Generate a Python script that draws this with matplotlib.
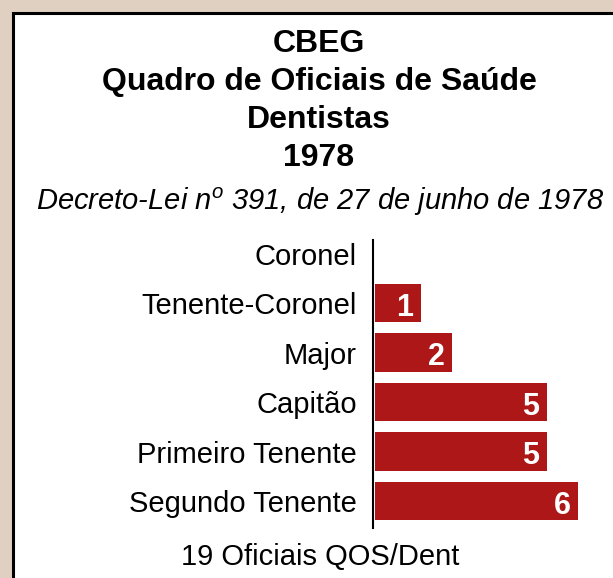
import matplotlib.pyplot as plt
import numpy as np
from matplotlib.patches import Rectangle

plt.rcParams['font.family'] = ['Liberation Sans', 'DejaVu Sans']
plt.rcParams['mathtext.fontset'] = 'custom'
plt.rcParams['mathtext.rm'] = 'Liberation Sans'
plt.rcParams['mathtext.it'] = 'Liberation Sans:italic'

postos = ['Coronel', 'Tenente-Coronel', 'Major', 'Capitão',
          'Primeiro Tenente', 'Segundo Tenente']
vagas = [0, 1, 2, 5, 5, 6]
titulo = ['CBEG', 'Quadro de Oficiais de Saúde', 'Dentistas', '1978']
decreto = r'Decreto-Lei n$^{\mathit{o}}$ 391, de 27 de junho de 1978'
rodape = '19 Oficiais QOS/Dent'

W, H = 613, 578
BAR_COLOR = '#ae1717'
BG = '#dfd0c1'


def fx(px):
    return px / W


def fy(py):
    return 1 - py / H


fig = plt.figure(figsize=(W / 100, H / 100), dpi=100)
fig.patch.set_facecolor(BG)

# white panel with black border (runs off the right and bottom edge)
fig.patches.append(Rectangle((fx(12.5), fy(H + 20)), 1.2, fy(13.5) - fy(H + 20),
                             transform=fig.transFigure, facecolor='white',
                             edgecolor='black', linewidth=2.2, zorder=-5))

# title block
for i, line in enumerate(titulo):
    fig.text(fx(319), fy(44 + 38 * i), line, ha='center', va='center',
             fontsize=23, fontweight='bold')
fig.text(fx(320), fy(202), decreto, ha='center', va='center',
         fontsize=21, style='italic')

# bar chart: every non-empty bar starts with a fixed stub so the label fits
unit = 31.5
stub = 0.46
ax = fig.add_axes([fx(373), fy(528), (W - 373) / W, 288 / H])
ax.set_zorder(2)
ax.set_facecolor('none')
ypos = np.arange(len(postos))
vals = np.array(vagas, dtype=float)
widths = np.where(vals > 0, vals + stub, 0)
ax.barh(ypos, widths, left=-stub, height=0.77, color=BAR_COLOR)
for y, v in zip(ypos, vagas):
    if v > 0:
        ax.text(v - 0.25, y + 0.26, str(v), ha='right', va='baseline',
                color='white', fontsize=22, fontweight='bold')

ax.set_xlim(-stub - 2 / unit, -stub - 2 / unit + (W - 373) / unit)
ax.set_ylim(5.545, -0.273)
ax.set_yticks(ypos)
ax.set_yticklabels(postos, fontsize=21)
ax.tick_params(axis='y', length=0, pad=11.5)
ax.set_xticks([])
for s in ['top', 'right', 'bottom']:
    ax.spines[s].set_visible(False)
ax.spines['left'].set_linewidth(1.5)

fig.text(fx(320), fy(557), rodape, ha='center', va='center', fontsize=21)

fig.savefig('out.png', dpi=100, facecolor=fig.get_facecolor())
